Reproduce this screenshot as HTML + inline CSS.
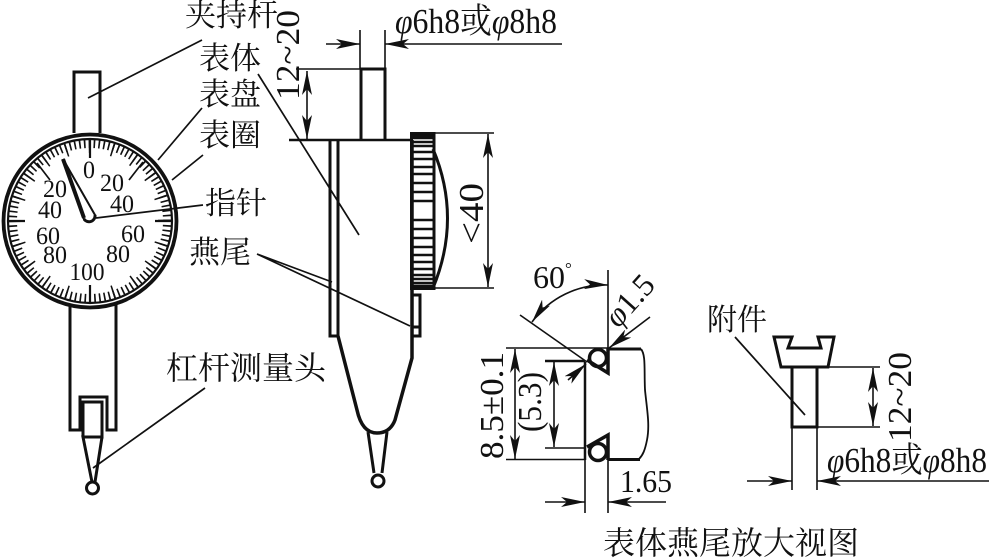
<!DOCTYPE html>
<html><head><meta charset="utf-8"><style>
html,body{margin:0;padding:0;background:#fff;overflow:hidden}
svg{display:block}
.c{font-family:"Liberation Serif","Noto Serif CJK SC",serif;fill:#111}
.n{font-family:"Liberation Serif",serif;fill:#111}
.i{font-style:italic}
</style></head><body>
<svg width="989" height="560" viewBox="0 0 989 560" xmlns="http://www.w3.org/2000/svg">
<defs>
<marker id="a" viewBox="0 0 24 10" refX="24" refY="5" markerWidth="24" markerHeight="10" markerUnits="userSpaceOnUse" orient="auto-start-reverse"><path d="M24,5 L0,0 L6,5 L0,10Z" fill="#111"/></marker>
</defs>
<rect width="989" height="560" fill="#fff"/>
<g fill="none" stroke="#111" stroke-linecap="butt">
<!-- dial view -->
<path d="M74,133V72H100V133M70,305V430H80V397H107V430H116V305" stroke-width="3"/>
<path d="M83,437V402H102V437H83L92,482M102,437L95,482" stroke-width="3"/>
<circle cx="92.5" cy="488" r="6" stroke-width="3"/>
<circle cx="90" cy="221" r="86.5" stroke-width="3.8"/>
<circle cx="90" cy="221" r="82" stroke-width="2.2"/>
<circle cx="90" cy="221" r="77.5" stroke-width="9" pathLength="100" stroke-dasharray="0.34 0.66" stroke-dashoffset="0.17"/>
<circle cx="90" cy="221" r="75" stroke-width="14" pathLength="20" stroke-dasharray="0.07 0.93" stroke-dashoffset="0.035"/>
<path d="M90,140V158M90,285V302M8,221H25M155,221H172" stroke-width="2.2"/>
<path d="M129,180L143,162M50,180L37,163" stroke-width="1.7"/>
<path d="M63,159L84,219A6,6 0 0 0 95,215Z" fill="#fff" stroke-width="2"/>
<path d="M63,159L84,218" stroke-width="4"/>
<path d="M84,219A6,6 0 0 0 95,215" stroke-width="3"/>
<!-- leaders -->
<g stroke-width="1.7">
<path d="M202,40L88,98M202,108L158,160M203,155L172,180M203,205L96,218M258,74L359,235M257,254L332,282M257,254L410,326M205,388L93,468M735,337L805,415"/>
</g>
<!-- side view -->
<path d="M361,140V69H385V140" stroke-width="3"/>
<path d="M289,140H411" stroke-width="2.5"/>
<path d="M296,69H361M360,30V69M385,30V69" stroke-width="1.6"/>
<path d="M326,44H360" stroke-width="1.6" marker-end="url(#a)"/>
<path d="M562,44H385" stroke-width="1.6" marker-end="url(#a)"/>
<path d="M307,71V139" stroke-width="1.6" marker-start="url(#a)" marker-end="url(#a)"/>
<path d="M330,140V336H338V140" stroke-width="3"/>
<path d="M338,336L357,410Q362,433 377,433Q390,433 395,420L412,358V140" stroke-width="3.5"/>
<path d="M412,295H420V336H412M412,327H420" stroke-width="3"/>
<path d="M368,432L374,473M387,432L382,473" stroke-width="3"/>
<circle cx="378" cy="481" r="6" stroke-width="3"/>
<rect x="411.5" y="133.5" width="22.5" height="155" stroke-width="3"/>
<path d="M411,220H434M411,229H434M411,238H434M411,247H434M411,255H434M411,262H434M411,269H434M411,275H434M411,279H434M411,283H434M411,286H434M411,201H434M411,192H434M411,183H434M411,174H434M411,167H434M411,159H434M411,152H434M411,146H434M411,142H434M411,138H434M411,136H434" stroke-width="2.4"/>
<path d="M433,149Q462,218 433,288" stroke-width="3"/>
<path d="M434,133H494M434,288H494" stroke-width="1.6"/>
<path d="M488,134V287" stroke-width="1.6" marker-start="url(#a)" marker-end="url(#a)"/>
<!-- dovetail detail -->
<path d="M608,270V348M608,435V513M585,460V513M506,348H608M506,459.5H585M545,448H585" stroke-width="1.6"/>
<path d="M585,362V460M545,361H585" stroke-width="2.5"/>
<path d="M608,349H641M608,459.5H640" stroke-width="3"/>
<path d="M641,349C646,355 644,370 645,390C647,410 650,425 647,440C645,450 643,455 639,459" stroke-width="1.8"/>
<path d="M520,315L587,362" stroke-width="1.6"/>
<path d="M587,360L608,373V348" stroke-width="3.5"/>
<path d="M587,447L608,435V460" stroke-width="3.5"/>
<circle cx="598" cy="358" r="8.5" stroke-width="3.5"/>
<circle cx="598" cy="452" r="8.5" stroke-width="3.5"/>
<path d="M608,285A90,90 0 0 0 532,322" stroke-width="1.6" marker-start="url(#a)" marker-end="url(#a)"/>
<path d="M650,317L609,348" stroke-width="1.6" marker-end="url(#a)"/>
<path d="M568,380L586,364" stroke-width="1.6" marker-end="url(#a)"/>
<path d="M515,349V459" stroke-width="1.6" marker-start="url(#a)" marker-end="url(#a)"/>
<path d="M554,362V447" stroke-width="1.6" marker-start="url(#a)" marker-end="url(#a)"/>
<path d="M545,502H585" stroke-width="1.6" marker-end="url(#a)"/>
<path d="M666,502H608" stroke-width="1.6" marker-end="url(#a)"/>
<!-- attachment -->
<path d="M774,337H792L788,348H821L818,337H834L828,367H781Z" stroke-width="3"/>
<path d="M792,367V427H817V367" stroke-width="3"/>
<path d="M792,427V490M817,427V490M828,367H880M817,427H880" stroke-width="1.6"/>
<path d="M873,368V426" stroke-width="1.6" marker-start="url(#a)" marker-end="url(#a)"/>
<path d="M747,481H792" stroke-width="1.6" marker-end="url(#a)"/>
<path d="M989,481H817" stroke-width="1.6" marker-end="url(#a)"/>
</g>
<!-- dial numbers -->
<g class="n" font-size="25" text-anchor="middle" lengthAdjust="spacingAndGlyphs">
<text x="89" y="178" textLength="12" lengthAdjust="spacingAndGlyphs">0</text>
<text x="112" y="191" textLength="24" lengthAdjust="spacingAndGlyphs">20</text>
<text x="122" y="212" textLength="24" lengthAdjust="spacingAndGlyphs">40</text>
<text x="133" y="242" textLength="24" lengthAdjust="spacingAndGlyphs">60</text>
<text x="118" y="262" textLength="24" lengthAdjust="spacingAndGlyphs">80</text>
<text x="87" y="280" textLength="35" lengthAdjust="spacingAndGlyphs">100</text>
<text x="55" y="197" textLength="24" lengthAdjust="spacingAndGlyphs">20</text>
<text x="50" y="218" textLength="24" lengthAdjust="spacingAndGlyphs">40</text>
<text x="48" y="244" textLength="24" lengthAdjust="spacingAndGlyphs">60</text>
<text x="55" y="263" textLength="24" lengthAdjust="spacingAndGlyphs">80</text>
</g>
<!-- labels -->
<g class="c" font-size="31">
<text x="185" y="26">夹持杆</text>
<text x="199" y="69">表体</text>
<text x="199" y="105">表盘</text>
<text x="199" y="146">表圈</text>
<text x="205" y="214">指针</text>
<text x="189" y="263">燕尾</text>
<text x="166" y="379" font-size="32">杠杆测量头</text>
<text x="707" y="330" font-size="30">附件</text>
<text x="603" y="554" font-size="32">表体燕尾放大视图</text>
<text x="395" y="33" font-size="35" textLength="162" lengthAdjust="spacingAndGlyphs"><tspan class="i">φ</tspan>6h8或<tspan class="i">φ</tspan>8h8</text>
<text x="827" y="472" font-size="35" textLength="160" lengthAdjust="spacingAndGlyphs"><tspan class="i">φ</tspan>6h8或<tspan class="i">φ</tspan>8h8</text>
</g>
<g class="n" font-size="34">
<text transform="translate(299,100) rotate(-90)" textLength="90" lengthAdjust="spacingAndGlyphs">12~20</text>
<text transform="translate(911,442) rotate(-90)" textLength="90" lengthAdjust="spacingAndGlyphs">12~20</text>
<text transform="translate(483,244) rotate(-90)" font-size="35" textLength="61" lengthAdjust="spacingAndGlyphs">&lt;40</text>
<text transform="translate(503,459) rotate(-90)" textLength="107" lengthAdjust="spacingAndGlyphs">8.5±0.1</text>
<text transform="translate(541,432) rotate(-90)" textLength="60" lengthAdjust="spacingAndGlyphs">(5.3)</text>
<text x="533" y="288" font-size="32">60<tspan font-size="17" dy="-14">°</tspan></text>
<text transform="translate(618,329) rotate(-48)" font-size="32"><tspan class="i">φ</tspan>1.5</text>
<text x="620" y="492" font-size="32" textLength="52" lengthAdjust="spacingAndGlyphs">1.65</text>
</g>
</svg>
</body></html>
